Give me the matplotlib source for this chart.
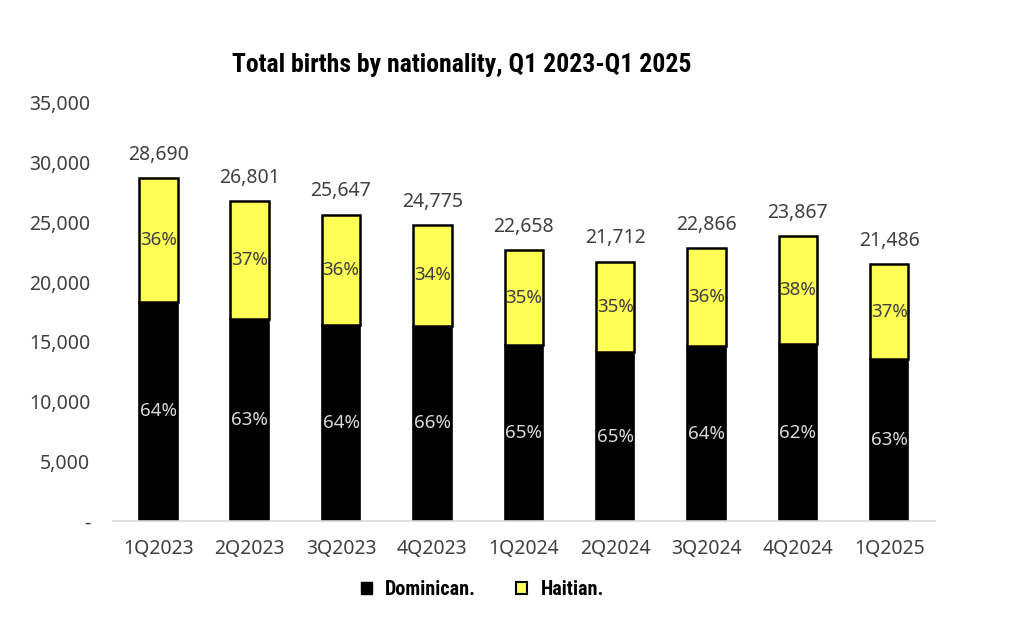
import matplotlib.pyplot as plt
from matplotlib.patches import Patch
from matplotlib.ticker import FuncFormatter
from matplotlib import font_manager
import numpy as np

quarters = ['1Q2023', '2Q2023', '3Q2023', '4Q2023', '1Q2024', '2Q2024', '3Q2024', '4Q2024', '1Q2025']
totals = [28690, 26801, 25647, 24775, 22658, 21712, 22866, 23867, 21486]
dominican = [18360, 16885, 16414, 16352, 14728, 14113, 14634, 14798, 13536]
haitian = [t - d for t, d in zip(totals, dominican)]
dom_pct = ['64%', '63%', '64%', '66%', '65%', '65%', '64%', '62%', '63%']
hai_pct = ['36%', '37%', '36%', '34%', '35%', '35%', '36%', '38%', '37%']

# look for a condensed family for the title / legend
fonts = font_manager.fontManager.ttflist
names = {f.name for f in fonts}
cond_stretch = {f.name for f in fonts if f.stretch in ('condensed', 'semi-condensed', 'extra-condensed', 500)}
narrow_name = None
for n in ['Liberation Sans Narrow', 'Roboto Condensed', 'DejaVu Sans Condensed', 'Open Sans Condensed', 'Noto Sans Condensed']:
    if n in names:
        narrow_name = n
        break
if narrow_name is None:
    narrow_name = 'Noto Sans' if 'Noto Sans' in cond_stretch else 'DejaVu Sans'
narrow = [narrow_name, 'DejaVu Sans']
plain = ['Noto Sans', 'DejaVu Sans']

fig = plt.figure(figsize=(10.24, 6.19), dpi=100)
ax = fig.add_axes([0.110, 0.158, 0.803, 0.676])

x = np.arange(len(quarters))
w = 0.42
ax.bar(x, dominican, w, color='black', edgecolor='black', linewidth=1.2, label='Dominican.')
ax.bar(x, haitian, w, bottom=dominican, color='#FFFF55', edgecolor='black', linewidth=1.8, label='Haitian.')

for i in range(len(quarters)):
    ax.text(x[i], dominican[i] / 2, dom_pct[i], ha='center', va='center',
            fontsize=13.5, color='#D9D9D9', family=plain)
    ax.text(x[i], dominican[i] + haitian[i] / 2, hai_pct[i], ha='center', va='center',
            fontsize=13.5, color='#404040', family=plain)
    ax.text(x[i], totals[i] + 1100, f'{totals[i]:,}', ha='center', va='bottom',
            fontsize=14, color='#404040', family=plain)

ax.set_xlim(-0.5, len(quarters) - 0.5)
ax.set_ylim(0, 35000)
ax.set_yticks(range(0, 35001, 5000))
ax.yaxis.set_major_formatter(FuncFormatter(lambda v, p: '-' if v == 0 else f'{int(v):,}'))
ax.set_xticks(x)
ax.set_xticklabels(quarters)
for lab in ax.get_xticklabels() + ax.get_yticklabels():
    lab.set_family(plain)
    lab.set_fontsize(14)
    lab.set_color('#404040')
ax.tick_params(axis='both', length=0)
ax.tick_params(axis='x', pad=13)
ax.tick_params(axis='y', pad=16)

for s in ['top', 'right', 'left']:
    ax.spines[s].set_visible(False)
ax.spines['bottom'].set_color('#D9D9D9')
ax.spines['bottom'].set_linewidth(1.2)

fig.text(0.451, 0.895, 'Total births by nationality, Q1 2023-Q1 2025', ha='center', va='center',
         fontsize=18.5, fontweight='bold', fontstretch='condensed', family=narrow)

handles = [Patch(facecolor='black', edgecolor='black'),
           Patch(facecolor='#FFFF55', edgecolor='black', linewidth=1.5)]
leg = fig.legend(handles, ['Dominican.', 'Haitian.'], loc='center', bbox_to_anchor=(0.471, 0.048),
                 ncol=2, frameon=False, handlelength=0.55, handleheight=0.55, columnspacing=2.0,
                 handletextpad=0.65,
                 prop={'family': narrow, 'weight': 'bold', 'size': 14.5, 'stretch': 'condensed'})

fig.savefig('out.png', dpi=100, facecolor='white')
